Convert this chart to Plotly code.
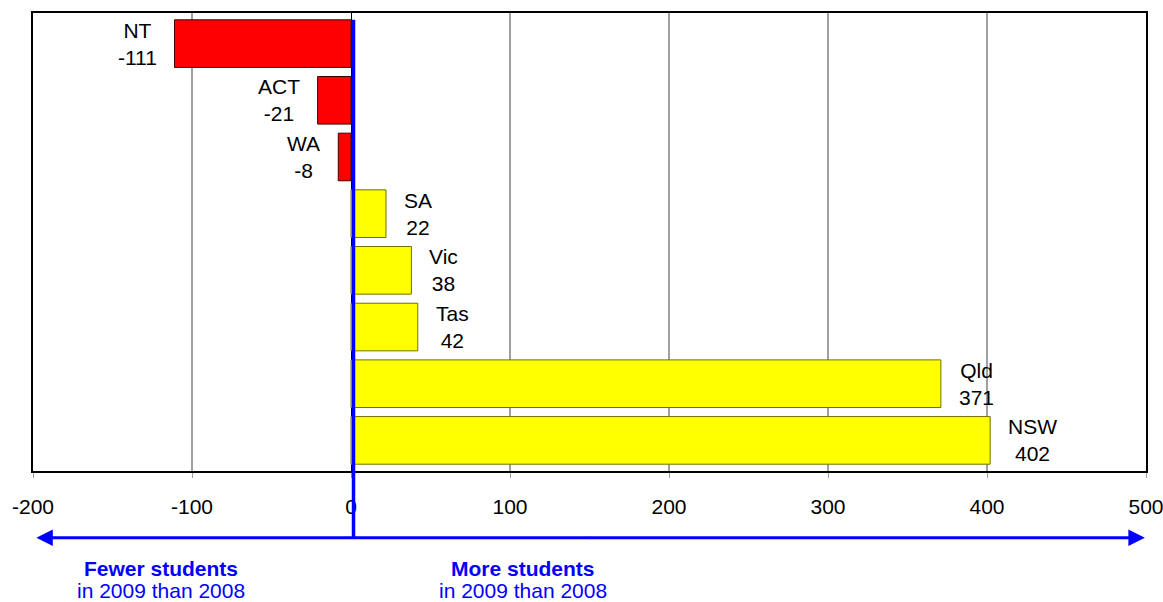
import plotly.graph_objects as go

# Change in student numbers, 2009 vs 2008, by state/territory
states = ["NT", "ACT", "WA", "SA", "Vic", "Tas", "Qld", "NSW"]
changes = [-111, -21, -8, 22, 38, 42, 371, 402]

x_min, x_max = -200, 500
tick_vals = [-200, -100, 0, 100, 200, 300, 400, 500]
tick_text = ["-200", "-100", "0", "100", "200", "300", "400", "500"]

FONT = "Liberation Sans, Arial, sans-serif"
BLUE = "#0000FF"

bar_colors = ["#FF0000" if v < 0 else "#FFFF00" for v in changes]
edge_colors = ["#400000" if v < 0 else "#707000" for v in changes]

fig = go.Figure(
    go.Bar(
        x=changes,
        y=states,
        orientation="h",
        marker=dict(color=bar_colors, line=dict(color=edge_colors, width=1)),
        hoverinfo="skip",
    )
)

# Two-line label (name + value) beside the end of each bar
for name, v in zip(states, changes):
    fig.add_annotation(
        x=v, y=name, xref="x", yref="y",
        text=f"{name}<br>{v}",
        showarrow=False, align="center",
        xanchor="right" if v < 0 else "left",
        xshift=-16 if v < 0 else 16,
        font=dict(family=FONT, size=21, color="black"),
    )

# Blue divider just right of zero, running down to the arrow
x_zero_paper = (0 - x_min) / (x_max - x_min) + 2.5 / 1113
arrow_y = -0.146
fig.add_shape(
    type="line", xref="paper", yref="paper",
    x0=x_zero_paper, x1=x_zero_paper, y0=0.985, y1=arrow_y,
    line=dict(color=BLUE, width=3.5),
)

# Double-headed arrow below the axis
for tip, tail in [(0.003, 556), (0.999, -556)]:
    fig.add_annotation(
        x=tip, y=arrow_y, xref="paper", yref="paper",
        ax=tail, ay=0, text="", showarrow=True,
        arrowhead=2, arrowsize=1.1, arrowwidth=3, arrowcolor=BLUE,
    )

# Captions under the arrow
captions = [
    (0.1146, "<b>Fewer students</b>", "in 2009 than 2008"),
    (0.4407, "<b>More students</b>", "in 2009 than 2008"),
]
for xp, head, sub in captions:
    fig.add_annotation(
        x=xp, y=-0.2135, xref="paper", yref="paper", text=head,
        showarrow=False, xanchor="center", yanchor="middle",
        font=dict(family=FONT, size=21, color=BLUE),
    )
    fig.add_annotation(
        x=xp, y=-0.2615, xref="paper", yref="paper", text=sub,
        showarrow=False, xanchor="center", yanchor="middle",
        font=dict(family=FONT, size=21, color=BLUE),
    )

fig.update_layout(
    width=1163, height=602,
    margin=dict(l=33, r=17, t=13, b=131, autoexpand=False),
    paper_bgcolor="white", plot_bgcolor="white",
    bargap=0.16, showlegend=False,
    font=dict(family=FONT, size=21, color="black"),
)
fig.update_xaxes(
    range=[x_min, x_max], tickvals=tick_vals, ticktext=tick_text,
    automargin=False,
    showgrid=True, gridcolor="#A0A0A0", gridwidth=2,
    zeroline=True, zerolinecolor="black", zerolinewidth=1,
    showline=True, linecolor="black", linewidth=2, mirror=True,
    ticks="outside", ticklen=5, tickcolor="#A0A0A0", tickwidth=1,
    ticklabelstandoff=11, ticklabeloverflow="allow",
    tickfont=dict(family=FONT, size=21, color="black"),
)
fig.update_yaxes(
    categoryorder="array", categoryarray=states,
    range=[7.54, -0.54], automargin=False,
    showticklabels=False, showgrid=False, zeroline=False, ticks="",
    showline=True, linecolor="black", linewidth=2, mirror=True,
)

fig.write_html("out.html")
